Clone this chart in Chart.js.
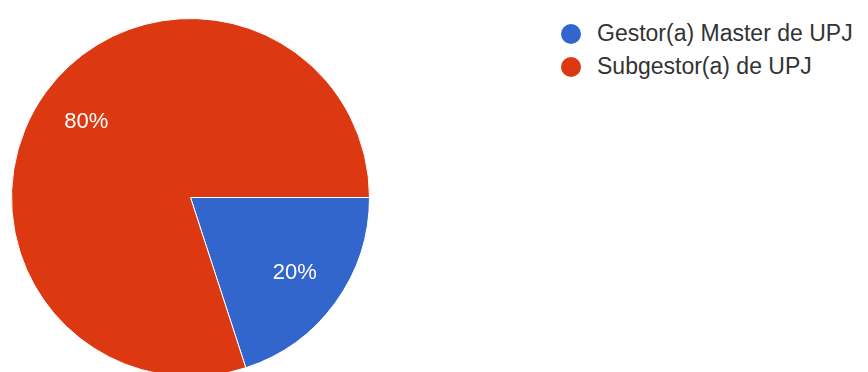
<!DOCTYPE html>
<html>
<head>
<meta charset="utf-8">
<script src="https://cdn.jsdelivr.net/npm/chart.js@4.4.1/dist/chart.umd.min.js"></script>
<style>
  html, body { margin: 0; padding: 0; background: #fff; overflow: hidden; }
  #wrap { position: absolute; left: 0; top: 0; width: 382px; height: 400px; }
  #legend { position: absolute; left: 561px; top: 21px; font-family: "Liberation Sans", Arial, sans-serif; font-size: 23px; color: #333; }
  #legend div { height: 33px; line-height: 24px; white-space: nowrap; }
  #legend span.dot { display: inline-block; width: 20px; height: 20px; border-radius: 50%; vertical-align: -3px; margin-right: 16px; }
</style>
</head>
<body>
<div id="wrap"><canvas id="pieCanvas"></canvas></div>
<div id="legend"></div>
<script>
var labels = ['Gestor(a) Master de UPJ', 'Subgestor(a) de UPJ'];
var values = [20, 80];
var colors = ['#3366cc', '#dc3912'];

// percent text inside each slice
var sliceLabels = {
    id: 'sliceLabels',
    afterDatasetsDraw: function(chart){
        var ctx = chart.ctx;
        var meta = chart.getDatasetMeta(0);
        var total = values.reduce(function(a, b){ return a + b; }, 0);
        ctx.save();
        ctx.fillStyle = '#ffffff';
        ctx.font = '22px "Liberation Sans", Arial, sans-serif';
        ctx.textAlign = 'center';
        ctx.textBaseline = 'middle';
        meta.data.forEach(function(arc, i){
            var p = arc.getProps(['x', 'y', 'startAngle', 'endAngle', 'outerRadius'], true);
            var mid = (p.startAngle + p.endAngle) / 2;
            var r = p.outerRadius * 0.72;
            var txt = Math.round(values[i] / total * 100) + '%';
            ctx.fillText(txt, p.x + Math.cos(mid) * r, p.y + Math.sin(mid) * r);
        });
        ctx.restore();
    }
};

var chartData = {
    labels: labels,
    datasets: [{
        data: values,
        backgroundColor: colors,
        borderColor: '#ffffff',
        borderWidth: 1
    }]
};

var ctx = document.getElementById('pieCanvas').getContext('2d');
var myPie = new Chart(ctx, {
    type: 'pie',
    data: chartData,
    options: {
        responsive: true,
        maintainAspectRatio: false,
        animation: false,
        rotation: 90,
        layout: { padding: { left: 11, right: 12, top: 18, bottom: 23 } },
        plugins: { legend: { display: false }, tooltip: { enabled: false } }
    },
    plugins: [sliceLabels]
});

var legend = document.getElementById('legend');
labels.forEach(function(l, i){
    var row = document.createElement('div');
    row.innerHTML = '<span class="dot" style="background:' + colors[i] + '"></span>' + l;
    legend.appendChild(row);
});
</script>
</body>
</html>
